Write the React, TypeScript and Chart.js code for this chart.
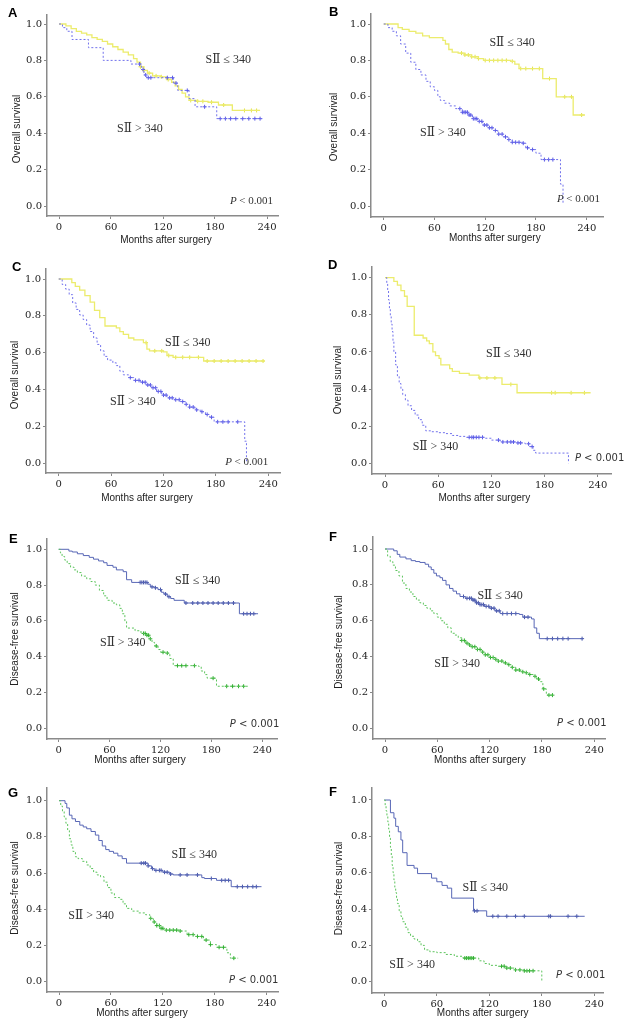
import React, { useEffect, useRef } from "react";
import { Chart, registerables } from "chart.js";
Chart.register(...registerables);

// ---------- tick labels & texts ----------
const X_TICKS = [0, 60, 120, 180, 240];
const Y_TICKS = [0, 0.2, 0.4, 0.6, 0.8, 1.0];
const LOW_LABEL = "SⅡ ≤ 340";
const HIGH_LABEL = "SⅡ > 340";
const P_REST = " < 0.001";
const X_TITLE = "Months after surgery";

// ---------- data: [month, survival] steps, and censor months ----------
const aLowKM = [[0,1],[8,0.99],[14,0.975],[20,0.96],[26,0.95],[32,0.94],[38,0.925],[44,0.915],[50,0.905],[56,0.89],[62,0.875],[68,0.86],[74,0.845],[80,0.83],[86,0.81],[90,0.79],[94,0.765],[98,0.745],[102,0.73],[108,0.715],[118,0.71],[124,0.695],[130,0.68],[134,0.66],[138,0.64],[142,0.62],[146,0.6],[150,0.58],[160,0.575],[172,0.57],[184,0.555],[200,0.525],[232,0.525]];
const aLowCens = [94,98,104,112,118,126,152,160,166,176,190,214,222,228];
const aHighKM = [[0,1],[4,0.98],[9,0.96],[15,0.915],[34,0.87],[51,0.8],[83,0.78],[95,0.75],[98,0.72],[101,0.705],[132,0.675],[137,0.635],[150,0.59],[157,0.545],[182,0.48],[235,0.48]];
const aHighCens = [93,97,100,103,106,125,131,135,148,168,186,192,198,204,212,219,226,232];

const bLowKM = [[0,1],[17,0.98],[22,0.97],[30,0.96],[38,0.95],[46,0.935],[54,0.925],[70,0.91],[73,0.89],[77,0.86],[81,0.845],[88,0.84],[96,0.83],[104,0.82],[112,0.81],[118,0.8],[150,0.795],[155,0.78],[160,0.755],[188,0.7],[204,0.6],[224,0.5],[238,0.5]];
const bLowCens = [92,96,100,104,108,112,120,125,130,135,140,145,152,162,168,176,184,196,214,222,234];
const bHighKM = [[0,1],[5,0.98],[10,0.96],[15,0.935],[20,0.89],[26,0.84],[32,0.79],[38,0.75],[44,0.72],[50,0.685],[55,0.655],[60,0.635],[64,0.6],[67,0.58],[72,0.565],[78,0.55],[85,0.535],[93,0.515],[100,0.5],[105,0.48],[111,0.465],[117,0.445],[123,0.43],[129,0.415],[135,0.395],[141,0.38],[147,0.365],[152,0.35],[164,0.345],[168,0.32],[172,0.31],[180,0.29],[186,0.255],[209,0.12],[212,0.01]];
const bHighCens = [90,93,95,97,99,101,103,106,108,110,113,116,119,122,125,128,132,136,140,144,148,152,156,160,165,170,176,190,195,200];

const cLowKM = [[0,1],[15,0.98],[19,0.96],[24,0.94],[30,0.91],[36,0.875],[41,0.83],[47,0.79],[53,0.745],[66,0.735],[70,0.715],[74,0.7],[80,0.68],[86,0.67],[97,0.655],[101,0.62],[104,0.61],[120,0.605],[124,0.585],[131,0.575],[166,0.555],[236,0.555]];
const cLowCens = [100,110,118,126,134,142,150,160,170,178,186,194,202,210,218,226,234];
const cHighKM = [[0,1],[4,0.97],[8,0.945],[12,0.915],[16,0.87],[20,0.835],[24,0.805],[28,0.78],[32,0.75],[36,0.715],[40,0.68],[44,0.645],[48,0.61],[52,0.58],[56,0.56],[62,0.545],[66,0.53],[70,0.5],[74,0.48],[80,0.465],[86,0.45],[94,0.44],[100,0.425],[106,0.41],[112,0.39],[118,0.37],[124,0.355],[132,0.345],[139,0.335],[145,0.32],[150,0.305],[156,0.29],[162,0.28],[168,0.265],[173,0.25],[178,0.225],[213,0.12],[215,0.0]];
const cHighCens = [82,88,92,96,99,102,105,108,111,114,117,120,123,127,130,134,138,142,146,150,154,158,164,170,175,182,188,194,205];

const dLowKM = [[0,1],[10,0.98],[14,0.96],[18,0.93],[22,0.9],[25,0.845],[33,0.69],[43,0.675],[47,0.66],[50,0.645],[54,0.6],[57,0.58],[61,0.565],[63,0.53],[73,0.51],[76,0.495],[84,0.485],[95,0.475],[106,0.46],[132,0.425],[149,0.38],[232,0.38]];
const dLowCens = [107,115,124,142,188,192,210,225];
const dHighKM = [[1,1],[2,0.97],[3,0.93],[4,0.88],[5,0.83],[6,0.79],[7,0.75],[8,0.71],[9,0.66],[10,0.6],[12,0.53],[14,0.47],[16,0.43],[18,0.4],[20,0.37],[23,0.34],[26,0.31],[30,0.285],[34,0.26],[38,0.235],[42,0.205],[46,0.175],[52,0.17],[60,0.165],[68,0.16],[76,0.15],[84,0.145],[92,0.14],[112,0.135],[120,0.125],[130,0.115],[148,0.11],[158,0.105],[163,0.09],[167,0.07],[170,0.055],[207,0.0]];
const dHighCens = [95,98,100,103,106,110,128,133,138,142,145,150,153,162,166];

const eLowKM = [[0,1],[12,0.99],[16,0.985],[22,0.975],[29,0.965],[36,0.955],[41,0.945],[47,0.935],[53,0.925],[57,0.91],[64,0.9],[68,0.885],[76,0.875],[80,0.83],[86,0.815],[105,0.805],[108,0.79],[113,0.785],[117,0.775],[121,0.76],[124,0.75],[128,0.735],[132,0.725],[136,0.715],[148,0.7],[213,0.64],[235,0.64]];
const eLowCens = [96,98,100,102,104,110,114,120,126,130,150,158,164,170,176,182,188,194,200,206,218,222,226,230];
const eHighKM = [[0,1],[2,0.98],[4,0.96],[7,0.94],[10,0.92],[14,0.9],[18,0.885],[22,0.87],[27,0.85],[33,0.835],[38,0.82],[43,0.8],[48,0.77],[53,0.74],[57,0.715],[63,0.7],[68,0.69],[72,0.67],[75,0.64],[78,0.6],[80,0.56],[90,0.545],[97,0.53],[103,0.52],[107,0.5],[110,0.48],[113,0.46],[117,0.44],[120,0.425],[127,0.42],[131,0.39],[135,0.35],[165,0.345],[168,0.32],[172,0.3],[175,0.28],[186,0.235],[224,0.235]];
const eHighCens = [100,102,104,106,108,115,123,128,140,145,150,160,182,198,205,212,218];

const fLowKM = [[0,1],[10,0.99],[14,0.97],[17,0.955],[24,0.945],[30,0.935],[35,0.93],[40,0.925],[46,0.915],[50,0.9],[53,0.885],[56,0.865],[59,0.85],[63,0.84],[66,0.825],[70,0.8],[74,0.78],[78,0.765],[82,0.75],[86,0.735],[92,0.725],[100,0.715],[104,0.7],[108,0.69],[114,0.68],[120,0.67],[126,0.655],[132,0.64],[154,0.635],[158,0.62],[168,0.61],[171,0.56],[174,0.53],[177,0.5],[227,0.5]];
const fLowCens = [90,94,97,99,101,103,105,107,109,111,113,116,119,122,125,128,131,135,140,145,150,160,164,186,192,198,204,210,226];
const fHighKM = [[0,1],[3,0.96],[6,0.93],[9,0.91],[12,0.88],[16,0.85],[20,0.81],[24,0.78],[28,0.76],[32,0.735],[36,0.715],[40,0.7],[44,0.685],[48,0.67],[52,0.655],[56,0.64],[60,0.62],[64,0.6],[68,0.58],[72,0.56],[76,0.53],[80,0.52],[84,0.505],[88,0.49],[92,0.475],[96,0.465],[100,0.455],[105,0.44],[110,0.425],[115,0.41],[120,0.395],[125,0.385],[130,0.375],[135,0.365],[140,0.355],[145,0.34],[150,0.325],[155,0.315],[160,0.31],[165,0.3],[170,0.29],[174,0.275],[177,0.26],[181,0.22],[185,0.185],[194,0.185]];
const fHighCens = [88,91,94,97,100,103,106,109,112,115,118,121,124,127,130,134,138,142,146,150,154,158,162,166,172,176,182,188,192];

const gLowKM = [[0,1],[7,0.985],[9,0.96],[12,0.92],[15,0.9],[19,0.885],[24,0.865],[28,0.855],[32,0.845],[37,0.83],[42,0.81],[46,0.78],[50,0.75],[54,0.73],[58,0.72],[63,0.71],[68,0.695],[73,0.68],[78,0.655],[103,0.64],[107,0.625],[110,0.615],[120,0.605],[128,0.595],[132,0.59],[165,0.575],[168,0.57],[182,0.56],[199,0.525],[234,0.525]];
const gLowCens = [95,98,100,103,108,112,116,118,122,125,129,140,148,160,176,188,192,196,206,212,218,224,228];
const gHighKM = [[0,1],[2,0.97],[4,0.94],[6,0.91],[8,0.875],[10,0.835],[12,0.79],[14,0.755],[16,0.72],[19,0.69],[22,0.68],[27,0.665],[32,0.645],[36,0.625],[40,0.605],[44,0.59],[48,0.58],[52,0.55],[56,0.52],[60,0.49],[64,0.465],[70,0.455],[74,0.43],[78,0.405],[84,0.39],[92,0.38],[100,0.37],[105,0.35],[109,0.33],[113,0.31],[117,0.295],[121,0.285],[140,0.28],[148,0.26],[158,0.25],[167,0.23],[175,0.205],[182,0.19],[194,0.16],[198,0.13],[207,0.13]];
const gHighCens = [106,110,113,116,118,120,124,128,132,136,140,150,155,160,165,170,175,185,190,202];

const hLowKM = [[0,1],[7,0.93],[11,0.9],[13,0.855],[16,0.825],[19,0.78],[21,0.71],[26,0.64],[34,0.625],[38,0.595],[54,0.57],[60,0.55],[66,0.53],[72,0.515],[77,0.46],[102,0.39],[117,0.36],[229,0.36]];
const hLowCens = [103,106,124,130,140,150,160,188,190,210,220];
const hHighKM = [[0,1],[1,0.97],[2,0.94],[3,0.91],[4,0.88],[5,0.84],[6,0.79],[7,0.74],[8,0.69],[9,0.64],[10,0.6],[11,0.56],[12,0.52],[13,0.49],[14,0.46],[15,0.43],[17,0.39],[19,0.36],[21,0.33],[24,0.3],[27,0.27],[30,0.25],[34,0.235],[38,0.22],[42,0.2],[46,0.175],[52,0.165],[60,0.16],[70,0.15],[80,0.14],[90,0.13],[108,0.115],[114,0.1],[120,0.09],[130,0.085],[140,0.075],[150,0.065],[160,0.06],[180,0.0]];
const hHighCens = [92,94,96,98,100,102,134,137,140,144,150,155,160,163,166,170];

// ---------- styles ----------
const YELLOW = { color: "#ecec6c", mark: "#e2e24c", width: 1.3, dash: [] as number[] };
const BLUE_DASH = { color: "#7272ec", mark: "#5a5ae6", width: 1, dash: [2, 2] };
const BLUE_SOLID = { color: "#5867b6", mark: "#4352a8", width: 1, dash: [] as number[] };
const GREEN_DASH = { color: "#5cc45c", mark: "#2fae2f", width: 1, dash: [2, 2] };

// ---------- layout (page pixels) ----------
const PANELS = [
  { letter: "A", letterAt: [8, 13.5], yTitle: "Overall survival", cell: [0, 0, 316, 255],
    area: { l: 47, r: 278, t: 15, b: 216, x0: 59, x240: 267, y1: 24, y0: 206 },
    xTitleAt: [166, 240], yTitleAt: [17, 129],
    low: { km: aLowKM, cens: aLowCens, st: YELLOW }, high: { km: aHighKM, cens: aHighCens, st: BLUE_DASH },
    lowAt: [169, 0.804], highAt: [67, 0.422], pAt: [247, 0.028], pSans: false },
  { letter: "B", letterAt: [329, 12.5], yTitle: "Overall survival", cell: [316, 0, 315, 255],
    area: { l: 371, r: 603, t: 14, b: 217, x0: 383.7, x240: 586.7, y1: 24, y0: 206 },
    xTitleAt: [494.8, 238.3], yTitleAt: [334.3, 127],
    low: { km: bLowKM, cens: bLowCens, st: YELLOW }, high: { km: bHighKM, cens: bHighCens, st: BLUE_DASH },
    lowAt: [125, 0.894], highAt: [43, 0.4], pAt: [255.8, 0.037], pSans: false },
  { letter: "C", letterAt: [12, 267], yTitle: "Overall survival", cell: [0, 255, 316, 255],
    area: { l: 46, r: 280, t: 269, b: 473, x0: 58.7, x240: 268.3, y1: 279, y0: 463.3 },
    xTitleAt: [147, 498.3], yTitleAt: [15, 375],
    low: { km: cLowKM, cens: cLowCens, st: YELLOW }, high: { km: cHighKM, cens: cHighCens, st: BLUE_DASH },
    lowAt: [121.8, 0.651], highAt: [58.8, 0.335], pAt: [240, 0.004], pSans: false },
  { letter: "D", letterAt: [328, 265], yTitle: "Overall survival", cell: [316, 255, 315, 255],
    area: { l: 372, r: 611, t: 267, b: 474, x0: 385, x240: 597.7, y1: 277.7, y0: 463.3 },
    xTitleAt: [484.3, 498.3], yTitleAt: [338.7, 380],
    low: { km: dLowKM, cens: dLowCens, st: YELLOW }, high: { km: dHighKM, cens: dHighCens, st: BLUE_DASH },
    lowAt: [114, 0.589], highAt: [31.2, 0.086], pAt: [270, 0.027], pSans: true },
  { letter: "E", letterAt: [9, 539.5], yTitle: "Disease-free survival", cell: [0, 510, 316, 255],
    area: { l: 47, r: 277, t: 539, b: 739, x0: 58.7, x240: 262.3, y1: 549.3, y0: 728.3 },
    xTitleAt: [140, 760], yTitleAt: [15, 639],
    low: { km: eLowKM, cens: eLowCens, st: BLUE_SOLID }, high: { km: eHighKM, cens: eHighCens, st: GREEN_DASH },
    lowAt: [137, 0.823], highAt: [48.7, 0.48], pAt: [260, 0.019], pSans: true },
  { letter: "F", letterAt: [329, 537], yTitle: "Disease-free survival", cell: [316, 510, 315, 255],
    area: { l: 373, r: 605, t: 537, b: 739, x0: 385, x240: 594.3, y1: 549, y0: 728.3 },
    xTitleAt: [479.8, 760], yTitleAt: [339.3, 642],
    low: { km: fLowKM, cens: fLowCens, st: BLUE_SOLID }, high: { km: fHighKM, cens: fHighCens, st: GREEN_DASH },
    lowAt: [106, 0.738], highAt: [56.6, 0.362], pAt: [254, 0.028], pSans: true },
  { letter: "G", letterAt: [8, 793.5], yTitle: "Disease-free survival", cell: [0, 765, 316, 260],
    area: { l: 47, r: 278, t: 788, b: 992, x0: 59, x240: 266.7, y1: 800.7, y0: 981.7 },
    xTitleAt: [142, 1013.3], yTitleAt: [15, 888],
    low: { km: gLowKM, cens: gLowCens, st: BLUE_SOLID }, high: { km: gHighKM, cens: gHighCens, st: GREEN_DASH },
    lowAt: [130, 0.7], highAt: [10.8, 0.365], pAt: [253.5, 0.009], pSans: true },
  { letter: "F", letterAt: [329, 792.5], yTitle: "Disease-free survival", cell: [316, 765, 315, 260],
    area: { l: 372, r: 603, t: 788, b: 993, x0: 384.3, x240: 594.3, y1: 800, y0: 981.7 },
    xTitleAt: [482.7, 1013.3], yTitleAt: [339.3, 888.5],
    low: { km: hLowKM, cens: hLowCens, st: BLUE_SOLID }, high: { km: hHighKM, cens: hHighCens, st: GREEN_DASH },
    lowAt: [89.5, 0.519], highAt: [5.7, 0.092], pAt: [252.6, 0.033], pSans: true },
];

function stepValue(km: number[][], t: number) {
  let v = km[0][1];
  for (const [tt, s] of km) if (tt <= t) v = s;
  return v;
}

function KMPanel({ p }: { p: any }) {
  const ref = useRef<HTMLCanvasElement | null>(null);
  useEffect(() => {
    const [cl, ct, cw, ch] = p.cell;
    const a = p.area;
    const pxM = (a.x240 - a.x0) / 240;
    const xmin = -(a.x0 - a.l) / pxM;
    const xmax = 240 + (a.r - a.x240) / pxM;
    const pxU = a.y0 - a.y1;
    const ymin = -(a.b - a.y0) / pxU;
    const ymax = 1 + (a.y1 - a.t) / pxU;
    const yW = a.l - cl;
    const xH = ct + ch - a.b;

    const datasets: any[] = [];
    for (const c of [p.high, p.low]) {
      datasets.push({
        data: c.km.map(([t, s]: number[]) => ({ x: t, y: s })),
        stepped: true,
        borderColor: c.st.color,
        borderWidth: c.st.width,
        borderDash: c.st.dash,
        pointRadius: 0,
        fill: false,
      });
      datasets.push({
        data: c.cens.map((t: number) => ({ x: t, y: stepValue(c.km, t) })),
        showLine: false,
        pointStyle: "cross",
        pointRadius: 2,
        pointBorderColor: c.st.mark,
        pointBorderWidth: 1,
        borderColor: c.st.mark,
      });
    }

    const tickFont = { family: '"DejaVu Serif", serif', size: 10 };
    const textPlugin = {
      id: "kmText",
      afterDraw(chart: any) {
        const ctx = chart.ctx;
        const xs = chart.scales.x;
        const ys = chart.scales.y;
        ctx.save();
        ctx.textBaseline = "middle";
        // panel letter
        ctx.fillStyle = "#000";
        ctx.textAlign = "left";
        ctx.font = 'bold 13px "Liberation Sans", Arial, sans-serif';
        ctx.fillText(p.letter, p.letterAt[0] - cl, p.letterAt[1] - ct);
        // axis titles
        ctx.fillStyle = "#222";
        ctx.font = '10px "Liberation Sans", Arial, sans-serif';
        ctx.textAlign = "center";
        ctx.fillText(X_TITLE, p.xTitleAt[0] - cl, p.xTitleAt[1] - ct);
        ctx.save();
        ctx.translate(p.yTitleAt[0] - cl, p.yTitleAt[1] - ct);
        ctx.rotate(-Math.PI / 2);
        ctx.fillText(p.yTitle, 0, 0);
        ctx.restore();
        // group labels
        ctx.fillStyle = "#333";
        ctx.textAlign = "left";
        ctx.font = '12px "Liberation Serif", "DejaVu Serif", serif';
        ctx.fillText(LOW_LABEL, xs.getPixelForValue(p.lowAt[0]), ys.getPixelForValue(p.lowAt[1]));
        ctx.fillText(HIGH_LABEL, xs.getPixelForValue(p.highAt[0]), ys.getPixelForValue(p.highAt[1]));
        // P value (right aligned)
        const fam = p.pSans ? '"DejaVu Sans", sans-serif' : '"Liberation Serif", serif';
        const size = p.pSans ? 10 : 11;
        const xr = xs.getPixelForValue(p.pAt[0]);
        const yc = ys.getPixelForValue(p.pAt[1]);
        ctx.font = `${size}px ${fam}`;
        const restW = ctx.measureText(P_REST).width;
        ctx.fillText(P_REST, xr - restW, yc);
        ctx.font = `italic ${size}px ${fam}`;
        const pW = ctx.measureText("P").width;
        ctx.fillText("P", xr - restW - pW, yc);
        ctx.restore();
      },
    };

    const chart = new Chart(ref.current as HTMLCanvasElement, {
      type: "line",
      data: { datasets },
      options: {
        responsive: false,
        animation: false,
        layout: { padding: { left: 0, top: a.t - ct, right: cl + cw - a.r, bottom: 0 } },
        plugins: { legend: { display: false }, tooltip: { enabled: false } },
        scales: {
          x: {
            type: "linear",
            min: xmin,
            max: xmax,
            afterBuildTicks: (s: any) => { s.ticks = X_TICKS.map((v) => ({ value: v })); },
            afterFit: (s: any) => { s.height = xH; },
            ticks: { autoSkip: false, maxRotation: 0, padding: 2, color: "#222", font: tickFont, callback: (v: any) => String(v) },
            grid: { drawOnChartArea: false, drawTicks: true, tickLength: 3, color: "#888", lineWidth: 1 },
            border: { display: true, color: "#8a8a8a", width: 1.5 },
          },
          y: {
            type: "linear",
            min: ymin,
            max: ymax,
            afterBuildTicks: (s: any) => { s.ticks = Y_TICKS.map((v) => ({ value: v })); },
            afterFit: (s: any) => { s.width = yW; },
            ticks: { autoSkip: false, padding: 2, color: "#222", font: tickFont, callback: (v: any) => Number(v).toFixed(1) },
            grid: { drawOnChartArea: false, drawTicks: true, tickLength: 3, color: "#888", lineWidth: 1 },
            border: { display: true, color: "#8a8a8a", width: 1.5 },
          },
        },
      } as any,
      plugins: [textPlugin],
    });
    return () => chart.destroy();
  }, [p]);
  const [cl, ct, cw, ch] = p.cell;
  return (
    <canvas
      ref={ref}
      width={cw}
      height={ch}
      style={{ position: "absolute", left: cl, top: ct, width: cw, height: ch }}
    />
  );
}

export default function App() {
  return (
    <div style={{ position: "absolute", left: 0, top: 0, width: 631, height: 1025, background: "#fff" }}>
      {PANELS.map((p, i) => (
        <KMPanel key={i} p={p} />
      ))}
    </div>
  );
}
